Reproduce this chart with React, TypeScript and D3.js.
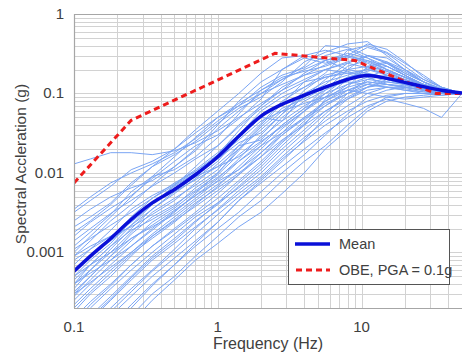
import React from 'react'
import * as d3 from 'd3'

const freqs = [0.1, 0.13, 0.18, 0.25, 0.35, 0.5, 0.7, 1, 1.4, 2, 2.8, 4, 5.6, 8, 11, 15, 20, 27, 36, 50]

// individual record spectra (g)
const records: number[][] = [
  [0.013, 0.015, 0.018, 0.018, 0.017, 0.019, 0.024, 0.034, 0.05, 0.075, 0.11, 0.15, 0.2, 0.24, 0.21, 0.17, 0.15, 0.13, 0.11, 0.1],
  [0.0032, 0.0045, 0.0068, 0.011, 0.014, 0.02, 0.032, 0.05, 0.07, 0.12, 0.17, 0.21, 0.3, 0.36, 0.28, 0.2, 0.16, 0.13, 0.11, 0.1],
  [0.0021, 0.0028, 0.0042, 0.0075, 0.012, 0.017, 0.025, 0.042, 0.065, 0.09, 0.14, 0.25, 0.33, 0.42, 0.45, 0.3, 0.2, 0.14, 0.115, 0.1],
  [0.0016, 0.0024, 0.0036, 0.0052, 0.0085, 0.014, 0.022, 0.03, 0.048, 0.085, 0.2, 0.28, 0.24, 0.3, 0.26, 0.22, 0.17, 0.13, 0.11, 0.1],
  [0.0012, 0.0018, 0.003, 0.0058, 0.009, 0.011, 0.016, 0.028, 0.055, 0.11, 0.16, 0.19, 0.22, 0.28, 0.38, 0.32, 0.22, 0.15, 0.12, 0.1],
  [0.0025, 0.0035, 0.005, 0.0065, 0.008, 0.012, 0.019, 0.036, 0.06, 0.1, 0.13, 0.17, 0.2, 0.25, 0.3, 0.25, 0.18, 0.14, 0.115, 0.1],
  [0.0009, 0.0014, 0.0025, 0.004, 0.007, 0.012, 0.02, 0.04, 0.08, 0.14, 0.2, 0.3, 0.26, 0.2, 0.22, 0.19, 0.16, 0.13, 0.11, 0.1],
  [0.0007, 0.0011, 0.0019, 0.0035, 0.0052, 0.0072, 0.011, 0.018, 0.03, 0.06, 0.09, 0.12, 0.18, 0.35, 0.4, 0.33, 0.24, 0.17, 0.12, 0.1],
  [0.0006, 0.0009, 0.0014, 0.0022, 0.0035, 0.0055, 0.0085, 0.014, 0.028, 0.05, 0.045, 0.1, 0.14, 0.17, 0.2, 0.18, 0.15, 0.12, 0.105, 0.1],
  [0.0005, 0.0008, 0.0013, 0.0025, 0.0042, 0.0062, 0.009, 0.012, 0.02, 0.035, 0.06, 0.095, 0.13, 0.22, 0.26, 0.2, 0.16, 0.13, 0.11, 0.1],
  [0.0004, 0.0006, 0.001, 0.0018, 0.0032, 0.0048, 0.007, 0.011, 0.022, 0.026, 0.05, 0.08, 0.11, 0.15, 0.17, 0.16, 0.14, 0.12, 0.105, 0.1],
  [0.0008, 0.0011, 0.0016, 0.0021, 0.003, 0.0045, 0.0075, 0.013, 0.022, 0.042, 0.08, 0.12, 0.16, 0.19, 0.16, 0.13, 0.12, 0.11, 0.1, 0.1],
  [0.0003, 0.0005, 0.0009, 0.0017, 0.0028, 0.004, 0.006, 0.0095, 0.017, 0.028, 0.045, 0.07, 0.1, 0.13, 0.15, 0.14, 0.13, 0.115, 0.1, 0.1],
  [0.00035, 0.0006, 0.0011, 0.002, 0.0035, 0.0058, 0.0082, 0.012, 0.016, 0.025, 0.038, 0.06, 0.09, 0.15, 0.21, 0.24, 0.19, 0.14, 0.11, 0.1],
  [0.00045, 0.0007, 0.0012, 0.0019, 0.0026, 0.0038, 0.0065, 0.01, 0.019, 0.038, 0.065, 0.085, 0.12, 0.14, 0.13, 0.12, 0.11, 0.1, 0.095, 0.1],
  [0.0009, 0.0012, 0.0016, 0.0024, 0.004, 0.0068, 0.01, 0.015, 0.024, 0.032, 0.055, 0.11, 0.17, 0.2, 0.18, 0.15, 0.13, 0.12, 0.105, 0.1],
  [0.00028, 0.00045, 0.0008, 0.0014, 0.0024, 0.0036, 0.0058, 0.0088, 0.014, 0.024, 0.04, 0.065, 0.12, 0.16, 0.19, 0.22, 0.17, 0.13, 0.11, 0.1],
  [0.0005, 0.0007, 0.001, 0.0015, 0.0022, 0.0034, 0.0052, 0.0085, 0.015, 0.03, 0.055, 0.09, 0.15, 0.24, 0.3, 0.24, 0.17, 0.13, 0.11, 0.1],
  [0.0006, 0.0009, 0.0015, 0.0028, 0.0048, 0.0075, 0.0105, 0.016, 0.026, 0.045, 0.06, 0.075, 0.09, 0.12, 0.14, 0.13, 0.125, 0.115, 0.105, 0.1],
  [0.00032, 0.0005, 0.0009, 0.0015, 0.0021, 0.003, 0.0048, 0.008, 0.014, 0.022, 0.032, 0.05, 0.08, 0.11, 0.13, 0.16, 0.15, 0.13, 0.11, 0.1],
  [0.0004, 0.00055, 0.0008, 0.0012, 0.0019, 0.0032, 0.0055, 0.01, 0.02, 0.04, 0.075, 0.14, 0.2, 0.18, 0.2, 0.17, 0.14, 0.12, 0.105, 0.1],
  [0.00025, 0.0004, 0.0007, 0.0012, 0.002, 0.0033, 0.0052, 0.0078, 0.011, 0.018, 0.03, 0.05, 0.075, 0.1, 0.12, 0.13, 0.12, 0.11, 0.1, 0.1],
  [0.00018, 0.0003, 0.0005, 0.0009, 0.0016, 0.0025, 0.0038, 0.006, 0.0095, 0.016, 0.03, 0.048, 0.07, 0.1, 0.13, 0.12, 0.11, 0.105, 0.1, 0.1],
  [0.00015, 0.00024, 0.0004, 0.0007, 0.0012, 0.002, 0.0032, 0.0055, 0.0095, 0.018, 0.032, 0.06, 0.1, 0.16, 0.18, 0.16, 0.14, 0.12, 0.105, 0.1],
  [0.00012, 0.0002, 0.00035, 0.0006, 0.001, 0.0017, 0.0028, 0.0042, 0.0065, 0.011, 0.02, 0.035, 0.06, 0.09, 0.12, 0.14, 0.13, 0.115, 0.1, 0.1],
  [0.0001, 0.00016, 0.00028, 0.0005, 0.0009, 0.0015, 0.0025, 0.004, 0.0068, 0.012, 0.022, 0.04, 0.085, 0.13, 0.16, 0.2, 0.16, 0.13, 0.11, 0.1],
  [0.00008, 0.00014, 0.00025, 0.00045, 0.0008, 0.0013, 0.0021, 0.0034, 0.0055, 0.009, 0.016, 0.028, 0.045, 0.07, 0.1, 0.12, 0.12, 0.11, 0.1, 0.1],
  [0.00006, 0.0001, 0.00018, 0.00032, 0.00058, 0.001, 0.0017, 0.003, 0.005, 0.0085, 0.015, 0.025, 0.04, 0.06, 0.08, 0.095, 0.1, 0.1, 0.1, 0.1],
  [0.00005, 0.00009, 0.00016, 0.00028, 0.0005, 0.00085, 0.0014, 0.0024, 0.0045, 0.0075, 0.012, 0.02, 0.032, 0.05, 0.07, 0.085, 0.075, 0.065, 0.05, 0.1],
  [0.00002, 0.00004, 0.00007, 0.00013, 0.00025, 0.00045, 0.0008, 0.0013, 0.0021, 0.0032, 0.0055, 0.01, 0.02, 0.035, 0.06, 0.08, 0.09, 0.095, 0.1, 0.1],
  [0.00004, 0.00007, 0.00012, 0.00022, 0.0004, 0.0007, 0.0012, 0.002, 0.0032, 0.0058, 0.01, 0.017, 0.03, 0.055, 0.09, 0.11, 0.12, 0.11, 0.1, 0.1],
  [0.00007, 0.00012, 0.0002, 0.00035, 0.0006, 0.0011, 0.002, 0.0035, 0.006, 0.01, 0.018, 0.032, 0.055, 0.1, 0.15, 0.17, 0.14, 0.12, 0.105, 0.1],
  [0.00013, 0.00022, 0.00038, 0.0007, 0.0012, 0.0019, 0.003, 0.0048, 0.008, 0.014, 0.025, 0.045, 0.08, 0.12, 0.22, 0.25, 0.2, 0.15, 0.12, 0.1],
  [0.0002, 0.00032, 0.00055, 0.00095, 0.0015, 0.0024, 0.004, 0.0068, 0.012, 0.022, 0.04, 0.065, 0.09, 0.11, 0.1, 0.09, 0.085, 0.09, 0.095, 0.1],
  [0.00009, 0.00015, 0.00026, 0.00048, 0.00085, 0.0014, 0.0024, 0.0042, 0.0075, 0.013, 0.024, 0.042, 0.07, 0.11, 0.14, 0.13, 0.12, 0.11, 0.1, 0.1],
  [0.00003, 0.00006, 0.0001, 0.0002, 0.00038, 0.0007, 0.0013, 0.0024, 0.0045, 0.008, 0.014, 0.026, 0.05, 0.085, 0.12, 0.15, 0.14, 0.12, 0.105, 0.1],
  [0.00022, 0.00035, 0.0006, 0.001, 0.0017, 0.0028, 0.0045, 0.0072, 0.011, 0.02, 0.036, 0.06, 0.11, 0.2, 0.3, 0.28, 0.2, 0.14, 0.11, 0.1],
  [0.0011, 0.0015, 0.0022, 0.0032, 0.0048, 0.007, 0.0105, 0.017, 0.034, 0.07, 0.12, 0.17, 0.23, 0.29, 0.24, 0.19, 0.15, 0.12, 0.105, 0.1],
  [0.0014, 0.002, 0.0031, 0.0045, 0.0068, 0.01, 0.015, 0.022, 0.038, 0.065, 0.1, 0.14, 0.16, 0.18, 0.17, 0.15, 0.13, 0.115, 0.105, 0.1],
  [0.0003, 0.00042, 0.00065, 0.001, 0.0016, 0.0026, 0.0042, 0.0065, 0.01, 0.016, 0.026, 0.04, 0.06, 0.085, 0.11, 0.12, 0.115, 0.105, 0.1, 0.1],
  [0.0018, 0.0025, 0.004, 0.007, 0.012, 0.02, 0.035, 0.06, 0.1, 0.18, 0.28, 0.3, 0.35, 0.3, 0.25, 0.2, 0.16, 0.13, 0.11, 0.1],
  [0.001, 0.0016, 0.0028, 0.005, 0.009, 0.016, 0.028, 0.05, 0.075, 0.11, 0.15, 0.22, 0.4, 0.38, 0.3, 0.24, 0.18, 0.14, 0.11, 0.1],
  [0.0004, 0.0007, 0.0012, 0.0022, 0.004, 0.007, 0.012, 0.022, 0.04, 0.07, 0.11, 0.18, 0.26, 0.3, 0.42, 0.36, 0.25, 0.16, 0.12, 0.1],
  [0.00003, 0.00005, 0.00009, 0.00016, 0.0003, 0.0005, 0.0009, 0.0016, 0.0028, 0.0045, 0.008, 0.014, 0.022, 0.04, 0.065, 0.09, 0.1, 0.1, 0.1, 0.1],
  [0.0035, 0.005, 0.0075, 0.01, 0.013, 0.018, 0.027, 0.045, 0.07, 0.1, 0.15, 0.2, 0.26, 0.32, 0.28, 0.22, 0.17, 0.13, 0.11, 0.1],
]

// mean spectrum (g), same frequencies
const meanValues = [0.00058, 0.0009, 0.0015, 0.0026, 0.0042, 0.0062, 0.0095, 0.016, 0.029, 0.052, 0.073, 0.095, 0.12, 0.15, 0.168, 0.155, 0.138, 0.122, 0.11, 0.101]

// OBE design spectrum, PGA = 0.1g
const obeFreqs = [0.1, 0.25, 2.5, 9, 12.7, 21.5, 33, 50]
const obeValues = [0.0075, 0.046, 0.32, 0.26, 0.2, 0.135, 0.1, 0.1]

const xTickValues = [0.1, 1, 10]
const xTickLabels = ['0.1', '1', '10']
const yTickValues = [0.001, 0.01, 0.1, 1]
const yTickLabels = ['0.001', '0.01', '0.1', '1']

const W = 462
const H = 356
const margin = { top: 14, right: 0, bottom: 48, left: 74 }
const font = 'Arial, "Liberation Sans", sans-serif'

export default function App() {
  const x = d3.scaleLog().domain([0.1, 50]).range([margin.left, W - margin.right])
  const y = d3.scaleLog().domain([0.0002, 1]).range([H - margin.bottom, margin.top])

  const linear = d3.line<[number, number]>().x(d => x(d[0])).y(d => y(d[1]))
  const smooth = d3.line<[number, number]>().x(d => x(d[0])).y(d => y(d[1])).curve(d3.curveMonotoneX)

  const xGrid: number[] = []
  for (let dec = 0.1; dec < 100; dec *= 10) {
    for (let k = 1; k <= 9; k++) {
      const v = +(k * dec).toPrecision(3)
      if (v >= 0.1 && v <= 50) xGrid.push(v)
    }
  }
  const yGrid: number[] = []
  for (let dec = 0.0001; dec < 1; dec *= 10) {
    for (let k = 1; k <= 9; k++) {
      const v = +(k * dec).toPrecision(3)
      if (v >= 0.0002 && v <= 1) yGrid.push(v)
    }
  }

  const [x0, x1] = x.range()
  const [yb, yt] = y.range()

  return (
    <div style={{ position: 'absolute', left: 0, top: 0 }}>
      <svg width={W} height={H} style={{ display: 'block', background: '#fff' }}>
        <defs>
          <clipPath id="plot">
            <rect x={x0} y={yt} width={x1 - x0} height={yb - yt} />
          </clipPath>
        </defs>

        <g stroke="#d2d2d2" strokeWidth={1}>
          {xGrid.map(v => (
            <line key={'x' + v} x1={Math.round(x(v)) + 0.5} x2={Math.round(x(v)) + 0.5} y1={yt} y2={yb} />
          ))}
          {yGrid.map(v => (
            <line key={'y' + v} x1={x0} x2={x1} y1={Math.round(y(v)) + 0.5} y2={Math.round(y(v)) + 0.5} />
          ))}
        </g>

        <g clipPath="url(#plot)">
          {records.map((r, i) => (
            <path
              key={i}
              d={linear(freqs.map((f, j) => [f, r[j]] as [number, number])) ?? ''}
              fill="none"
              stroke="#7aa5f4"
              strokeWidth={1}
            />
          ))}
          <path
            d={linear(obeFreqs.map((f, j) => [f, obeValues[j]] as [number, number])) ?? ''}
            fill="none"
            stroke="#ee1c1c"
            strokeWidth={3}
            strokeDasharray="6,4"
          />
          <path
            d={smooth(freqs.map((f, j) => [f, meanValues[j]] as [number, number])) ?? ''}
            fill="none"
            stroke="#0a10d8"
            strokeWidth={3.5}
            strokeLinejoin="round"
          />
        </g>

        <g stroke="#a6a6a6" strokeWidth={1.2} fill="none">
          <line x1={x0 + 0.5} x2={x0 + 0.5} y1={yt} y2={yb} />
          <line x1={x0} x2={x1} y1={yb + 0.5} y2={yb + 0.5} />
          <line x1={x0} x2={x1} y1={yt + 0.5} y2={yt + 0.5} />
        </g>

        <g fontFamily={font} fontSize={15} fill="#404040">
          {xTickValues.map((v, i) => (
            <text key={v} x={x(v)} y={yb + 24} textAnchor="middle">{xTickLabels[i]}</text>
          ))}
          {yTickValues.map((v, i) => (
            <text key={v} x={x0 - 10} y={y(v) + 5} textAnchor="end">{yTickLabels[i]}</text>
          ))}
        </g>

        <text x={268} y={H - 7} fontFamily={font} fontSize={16} fill="#404040" textAnchor="middle">
          Frequency (Hz)
        </text>
        <text
          transform={`translate(26,${(yt + yb) / 2 + 3}) rotate(-90)`}
          fontFamily={font}
          fontSize={15.5}
          fill="#404040"
          textAnchor="middle"
        >
          Spectral Accleration (g)
        </text>

        <g transform="translate(288,229)">
          <rect x={0.5} y={0.5} width={161} height={55} fill="#fff" stroke="#555" strokeWidth={1} />
          <line x1={7} x2={42} y1={15} y2={15} stroke="#0a10d8" strokeWidth={3.5} />
          <line x1={8} x2={42} y1={41} y2={41} stroke="#ee1c1c" strokeWidth={3} strokeDasharray="6,4" />
          <text x={51} y={20} fontFamily={font} fontSize={14.5} fill="#404040">Mean</text>
          <text x={51} y={46} fontFamily={font} fontSize={14.5} fill="#404040">OBE, PGA = 0.1g</text>
        </g>
      </svg>
    </div>
  )
}
